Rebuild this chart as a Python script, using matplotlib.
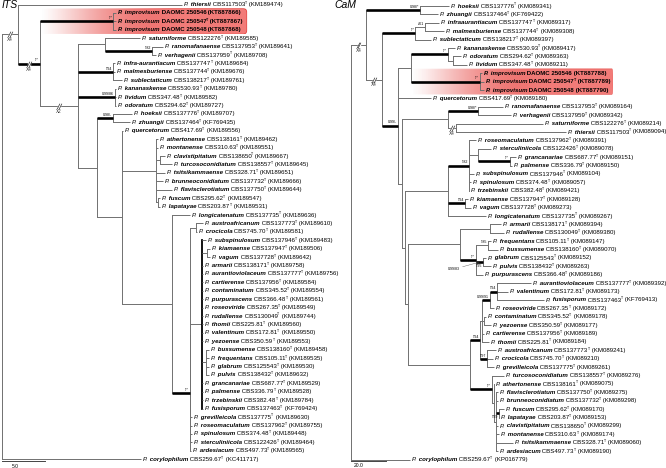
import numpy as np
import matplotlib.pyplot as plt
from matplotlib.patches import FancyBboxPatch
from matplotlib.colors import to_rgb
import matplotlib.transforms as mtransforms

plt.rcParams['font.family'] = ['Liberation Sans Narrow', 'Liberation Sans', 'DejaVu Sans']

GREY = '#707070'

# ---------------- ITS data (top to bottom) ----------------
its_species = ["thiersii", "improvisum", "improvisum", "improvisum", "saturniforme",
               "ranomafanaense", "verhagenii", "infra-aurantiacum", "malmesburiense",
               "sublectaticum", "kananaskense", "lividum", "odoratum", "hoeksii", "zhuangii",
               "quercetorum", "athertonense", "montanense", "clavistipitatum",
               "turcosoconidiatum", "tsitsikammaense", "brunneoconidiatum",
               "flavisclerotiatum", "fuscum", "lapatayae", "longicatenatum",
               "austroafricanum", "crocicola", "subspinulosum", "kiamaense", "vagum",
               "armarii", "aurantioviolaceum", "cartierense", "contaminatum",
               "purpurascens", "roseoviride", "rudallense", "thomii", "valentinum",
               "yezoense", "bussumense", "frequentans", "glabrum", "pulvis", "grancanariae",
               "palmense", "trzebinskii", "fusisporum", "grevilleicola", "roseomaculatum",
               "spinulosum", "sterculiniicola", "ardesiacum", "corylophilum"]
its_strains = ["CBS117503", "DAOMC 250546", "DAOMC 250547", "DAOMC 250548", "CBS122276",
               "CBS137953", "CBS137959", "CBS137747", "CBS137744", "CBS138217", "CBS530.93",
               "CBS347.48", "CBS294.62", "CBS137776", "CBS137464", "CBS417.69", "CBS138161",
               "CBS310.63", "CBS138650", "CBS138557", "CBS328.71", "CBS137732", "CBS137750",
               "CBS295.62", "CBS203.87", "CBS137735", "CBS137773", "CBS745.70", "CBS137946",
               "CBS137947", "CBS137728", "CBS138171", "CBS137777", "CBS137956", "CBS345.52",
               "CBS366.48", "CBS267.35", "CBS130049", "CBS225.81", "CBS172.81", "CBS350.59",
               "CBS138160", "CBS105.11", "CBS125543", "CBS138432", "CBS687.77", "CBS336.79",
               "CBS382.48", "CBS137463", "CBS137775", "CBS137962", "CBS374.48", "CBS122426",
               "CBS497.73", "CBS259.67"]
its_acc = ["KM189474", "KT887866", "KT887867", "KT887868", "KM189585", "KM189641", "KM189708",
           "KM189684", "KM189676", "KM189761", "KM189780", "KM189582", "KM189727", "KM189707",
           "KF769435", "KM189556", "KM189462", "KM189551", "KM189667", "KM189645", "KM189651",
           "KM189666", "KM189644", "KM189547", "KM189531", "KM189636", "KM189610", "KM189581",
           "KM189483", "KM189506", "KM189642", "KM189758", "KM189756", "KM189584", "KM189554",
           "KM189561", "KM189549", "KM189744", "KM189560", "KM189550", "KM189553", "KM189458",
           "KM189535", "KM189530", "KM189632", "KM189529", "KM189528", "KM189784", "KF769424",
           "KM189630", "KM189755", "KM189448", "KM189464", "KM189565", "KC411717"]
its_type = [s not in ("DAOMC 250546", "DAOMC 250548") for s in its_strains]

# branch lengths in substitution units; node label = flags|support
# flags: T thick branch, V dark vertical, Xn shortened branch
its_tree = """(
(thiersii:19.07,
 ((improvisum:0.35,improvisum:0.35,improvisum:0.35)T|*/*:8.49,
  ((saturniforme:4.07,(ranomafanaense:1.28,verhagenii:0.47)T|*/82:5.47):3.14,
   (infra-aurantiacum:0.23,malmesburiense:0.23,sublectaticum:1.05)T|*/94:4.07,
   (kananaskense:0.12,lividum:0.12,odoratum:0.12)T|0.99/86:4.30,
   ((hoeksii:2.21,zhuangii:1.98)T|0.98/-:1.86,
    (quercetorum:0.12,
     (athertonense:0.23,montanense:0.23,(clavistipitatum:0.58,turcosoconidiatum:1.40):0.47,
      tsitsikammaense:1.05,brunneoconidiatum:0.81,flavisclerotiatum:1.86,
      (fuscum:0.23,lapatayae:0.23):0.23):3.95,
     (longicatenatum:2.09,
      (((austroafricanum:0.81,crocicola:0.06):0.70,
        (subspinulosum:0.47,(kiamaense:0.35,vagum:0.35):0.58,armarii:0.12,aurantioviolaceum:0.12,
         cartierense:0.12,contaminatum:0.12,purpurascens:0.12,roseoviride:0.12,rudallense:0.12,
         thomii:0.12,valentinum:0.12,yezoense:0.12,
         (bussumense:0.35,frequentans:0.35,glabrum:0.35,pulvis:0.35):0.47,
         grancanariae:0.12,palmense:0.12,trzebinskii:0.12,fusisporum:0.12)V:1.40,
        grevilleicola:0.23,roseomaculatum:0.23,spinulosum:0.23,sterculiniicola:0.23):0.02,
       ardesiacum:0.12)T|*/*:2.09):5.81
    ):2.91
   ):2.21
  )X2:4.42
 )TX4|*/*:2.56
)X4:1.86,
corylophilum:16.16)"""

# ---------------- CaM data (top to bottom) ----------------
cam_species = ["hoeksii", "zhuangii", "infraaurantiacum", "malmesburiense", "sublectaticum",
               "kananaskense", "odoratum", "lividum", "improvisum", "improvisum", "improvisum",
               "quercetorum", "ranomafanaense", "verhagenii", "saturniforme", "thiersii",
               "roseomaculatum", "sterculiniicola", "grancanariae", "palmense", "subspinulosum",
               "spinulosum", "trzebinskii", "kiamaense", "vagum", "longicatenatum", "armarii",
               "rudallense", "frequentans", "bussumense", "glabrum", "pulvis", "purpurascens",
               "aurantioviolaceum", "valentinum", "fusisporum", "roseoviride", "contaminatum",
               "yezoense", "cartierense", "thomii", "austroafricanum", "crocicola",
               "grevilleicola", "turcosoconidiatum", "athertonense", "flavisclerotiatum",
               "brunneoconidiatum", "fuscum", "lapatayae", "clavistipitatum", "montanense",
               "tsitsikammaense", "ardesiacum", "corylophilum"]
cam_strains = ["CBS137776", "CBS137464", "CBS137747", "CBS137744", "CBS138217", "CBS530.93",
               "CBS294.62", "CBS347.48", "DAOMC 250546", "DAOMC 250547", "DAOMC 250548",
               "CBS417.69", "CBS137953", "CBS137959", "CBS122276", "CBS117503", "CBS137962",
               "CBS122426", "CBS687.77", "CBS336.79", "CBS137946", "CBS374.48", "CBS382.48",
               "CBS137947", "CBS137728", "CBS137735", "CBS138171", "CBS130049", "CBS105.11",
               "CBS138160", "CBS125543", "CBS138432", "CBS366.48", "CBS137777", "CBS172.81",
               "CBS137463", "CBS267.35", "CBS345.52", "CBS350.59", "CBS137956", "CBS225.81",
               "CBS137773", "CBS745.70", "CBS137775", "CBS138557", "CBS138161", "CBS137750",
               "CBS137732", "CBS295.62", "CBS203.87", "CBS138650", "CBS310.63", "CBS328.71",
               "CBS497.73", "CBS259.67"]
cam_acc = ["KM089341", "KF769422", "KM089317", "KM089308", "KM089397", "KM089417", "KM089363",
           "KM089211", "KT887788", "KT887789", "KT887790", "KM089180", "KM089164", "KM089342",
           "KM089214", "KM089094", "KM089391", "KM089078", "KM089151", "KM089150", "KM089104",
           "KM089057", "KM089421", "KM089128", "KM089273", "KM089267", "KM089394", "KM089380",
           "KM089147", "KM089070", "KM089152", "KM089263", "KM089186", "KM089392", "KM089173",
           "KF769413", "KM089172", "KM089178", "KM089177", "KM089189", "KM089184", "KM089241",
           "KM089210", "KM089261", "KM089276", "KM089075", "KM089275", "KM089298", "KM089170",
           "KM089153", "KM089299", "KM089174", "KM089060", "KM089190", "KP016779"]
cam_type = [s not in ("DAOMC 250546", "DAOMC 250548") for s in cam_strains]

cam_tree = """(
((hoeksii:16.6,zhuangii:10.3)T|0.98/*:30.9,
 (((infraaurantiacum:8.0,malmesburiense:10.9)|-/61:5.7,sublectaticum:9.1)T|*/*:18.9,
  (((kananaskense:4.0,(odoratum:4.6,lividum:8.0):2.9)T|*/*:21.1,
    (improvisum:1.1,improvisum:2.3,improvisum:2.3)T|*/*:39.4):7.4,
   quercetorum:18.9,
   (((ranomafanaense:14.3,verhagenii:18.9)T|0.98/*:17.1,(saturniforme:49.7,thiersii:62.9)X4:4.6):26.3,
    (((roseomaculatum:4.0,(sterculiniicola:7.4,(grancanariae:3.4,palmense:1.1)T|*/*:18.3):5.1,
       subspinulosum:2.9,spinulosum:1.1,trzebinskii:0.3)T|*/82:12.0,
      (kiamaense:1.7,vagum:3.4)T|*/94:9.7,longicatenatum:21.7):24.6,
     (((armarii:6.3,rudallense:8.0):17.1,
       ((frequentans:1.7,bussumense:5.7)|*/85:6.9,(glabrum:1.7,pulvis:4.6)T|_*/95^0.99/83:4.0,
        purpurascens:4.0)T|*/*:9.1):29.7,
      (((((aurantioviolaceum:19.4,valentinum:6.3,fusisporum:26.9)T|*/94:4.0,roseoviride:2.3)T|0.99/91:4.6,
         (contaminatum:1.1,yezoense:4.0):1.1,cartierense:1.1,thomii:4.0):1.1,
        (austroafricanum:5.1,crocicola:3.4,grevilleicola:4.0)T|*/97:4.0)T|*/94:5.7,
       (turcosoconidiatum:6.9,(athertonense:0.3,(flavisclerotiatum:1.1,brunneoconidiatum:1.1,
         (fuscum:2.9,lapatayae:0.3)T|_*/99:1.7,clavistipitatum:1.1,montanense:1.7,
         tsitsikammaense:9.7,ardesiacum:1.1):1.1):1.1)T|*/*:12.6):35.4
     ):1.7
    ):1.7
   ):2.3
  )T|0.99/-:9.1
 )X4:9.1
)X4:8.6,
corylophilum:33.7)"""


def parse(s):
    s = ''.join(s.split())
    pos = 0

    def node():
        nonlocal pos
        n = {'kids': [], 'len': 0.0}
        if s[pos] == '(':
            pos += 1
            n['kids'].append(node())
            while s[pos] == ',':
                pos += 1
                n['kids'].append(node())
            pos += 1
        start = pos
        while pos < len(s) and s[pos] not in ':,)':
            pos += 1
        n['name'] = s[start:pos]
        if pos < len(s) and s[pos] == ':':
            pos += 1
            start = pos
            while pos < len(s) and s[pos] not in ',)':
                pos += 1
            n['len'] = float(s[start:pos])
        return n
    return node()


def place(n, x0, leaves):
    n['x'] = x0 + n['len']
    if n['kids']:
        for k in n['kids']:
            place(k, n['x'], leaves)
        n['y'] = (n['kids'][0]['y'] + n['kids'][-1]['y']) / 2
    else:
        n['y'] = len(leaves)
        leaves.append(n)


def draw_break(ax, xm, y, label):
    ax.plot([xm], [y], marker='s', ms=2.0, mfc='white', mec='white', zorder=4)
    for dx in (-0.7, 0.7):
        tr = mtransforms.offset_copy(ax.transData, fig=ax.figure, x=dx, y=0, units='points')
        ax.plot([xm], [y], marker=[(-0.5, -1), (0.5, 1)], ms=4, mew=0.5,
                color='#333333', transform=tr, zorder=5)
    ax.annotate(label, (xm, y), xytext=(0, -2.0), textcoords='offset points',
                ha='center', va='top', fontsize=3.3, color='#333333')


def draw_node(ax, n, x_parent=None):
    flags, sup = '', ''
    if n['kids']:
        parts = n['name'].split('|')
        flags = parts[0]
        sup = parts[1] if len(parts) > 1 else ''
    thick = 'T' in flags
    if x_parent is not None:
        ax.plot([x_parent, n['x']], [n['y'], n['y']], color='black' if thick else GREY,
                lw=1.9 if thick else 0.7, solid_capstyle='butt', zorder=3 if thick else 2)
        if 'X' in flags:
            draw_break(ax, (x_parent + n['x']) / 2, n['y'], 'X' + flags.split('X')[1])
        if sup:
            callout = None
            if '^' in sup:
                sup, callout = sup.split('^')
            below = sup.startswith('_')
            sup = sup.lstrip('_')
            ax.annotate(sup, (n['x'], n['y']), xytext=(-0.6, -1.2 if below else 0.9),
                        textcoords='offset points', ha='right',
                        va='top' if below else 'bottom', fontsize=2.6)
            if callout:
                xm = (x_parent + n['x']) / 2
                ax.annotate(callout, (xm, n['y']), xytext=(-14, -5), textcoords='offset points',
                            ha='right', va='center', fontsize=2.6,
                            arrowprops=dict(arrowstyle='-', lw=0.3, color='#555555',
                                            shrinkA=0, shrinkB=0))
    if n['kids']:
        dark = 'V' in flags
        ax.plot([n['x'], n['x']], [n['kids'][0]['y'], n['kids'][-1]['y']],
                color='black' if dark else GREY, lw=1.3 if dark else 0.7, zorder=2)
        for k in n['kids']:
            draw_node(ax, k, n['x'])


def leaf_label(ax, leaf, epithet, strain, typ, acc, fs):
    bold = epithet == 'improvisum'
    w = 'bold' if bold else 'normal'
    t = ax.annotate('P.', (leaf['x'], leaf['y']), xytext=(1.3, 0), textcoords='offset points',
                    va='center', ha='left', fontsize=fs, fontstyle='italic', fontweight=w)
    t = ax.annotate(' ' + epithet, xy=(1, 0), xycoords=t, va='bottom', ha='left',
                    fontsize=fs, fontstyle='italic', fontweight='bold')
    base = ax.annotate(' ' + strain, xy=(1, 0), xycoords=t, va='bottom', ha='left',
                       fontsize=fs, fontweight=w)
    last = base
    if typ:
        last = ax.annotate('T', xy=(1, 0.42), xycoords=base, va='bottom', ha='left',
                           fontsize=fs * 0.6, fontweight=w)
    ax.annotate(' (' + acc + ')', xy=(1, 0), xycoords=(last, base), va='bottom', ha='left',
                fontsize=fs, fontweight=w)


def highlight(ax, x0, x1, r0, r1, aspect, fc, ec):
    n = 256
    t = np.linspace(0, 1, n)
    alpha = np.clip(t / 0.62, 0, 1) ** 1.3
    for col, ix, iy in ((ec, 0.0, 0.0), (fc, 0.07 / aspect, 0.07)):
        rgba = np.zeros((1, n, 4))
        rgba[..., :3] = to_rgb(col)
        rgba[..., 3] = alpha
        box = FancyBboxPatch((x0 + ix, r0 + iy), x1 - x0 - 2 * ix, r1 - r0 - 2 * iy,
                             boxstyle='round,pad=0,rounding_size=0.45', mutation_aspect=aspect,
                             transform=ax.transData, facecolor='none', edgecolor='none')
        ax.add_patch(box)
        im = ax.imshow(rgba, extent=(x0, x1, r1, r0), aspect='auto', zorder=0.5,
                       interpolation='bilinear')
        im.set_clip_path(box)


def panel(ax, tree_str, species, strains, types, accs, title, fs):
    root = parse(tree_str)
    leaves = []
    place(root, 0.0, leaves)
    assert [l['name'] for l in leaves] == species
    draw_node(ax, root)
    for leaf, sp, st, ty, ac in zip(leaves, species, strains, types, accs):
        leaf_label(ax, leaf, sp, st, ty, ac, fs)
    ax.text(0.004, 0.999, title, transform=ax.transAxes, ha='left', va='top',
            fontsize=7.5, fontstyle='italic')
    ax.axis('off')
    return root, leaves


fig = plt.figure(figsize=(6.66, 4.68), dpi=100)

# ITS panel: 8.6 px per unit, leaves every 8.42 px
ax1 = fig.add_axes([0, 0, 0.5, 1])
r1, lv1 = panel(ax1, its_tree, its_species, its_strains, its_type, its_acc, 'ITS', 4.4)
highlight(ax1, 4.42, 28.5, 0.45, 3.55, 8.42 / 8.6, '#f27b78', '#e3403d')
ax1.plot([0, 5.0], [54.25, 54.25], color='#444444', lw=0.7)
ax1.text(1.5, 54.55, '5.0', ha='center', va='top', fontsize=3.6)
ax1.set_xlim(-2 / 8.6, -2 / 8.6 + 333 / 8.6)
ax1.set_ylim((468 - 4.5) / 8.42, -4.5 / 8.42)

# CaM panel: 1.75 px per unit
ax2 = fig.add_axes([0.5, 0, 0.5, 1])
r2, lv2 = panel(ax2, cam_tree, cam_species, cam_strains, cam_type, cam_acc, 'CaM', 4.4)
highlight(ax2, 34.5, 149.7, 7.45, 10.55, 8.4 / 1.75, '#f27b78', '#e3403d')
ax2.plot([0, 20.0], [54.2, 54.2], color='#444444', lw=0.7)
ax2.text(4.5, 54.45, '20.0', ha='center', va='top', fontsize=3.6)
ax2.set_xlim(-18 / 1.75, -18 / 1.75 + 333 / 1.75)
ax2.set_ylim((468 - 6) / 8.4, -6 / 8.4)

fig.savefig('out.png', dpi=100)
